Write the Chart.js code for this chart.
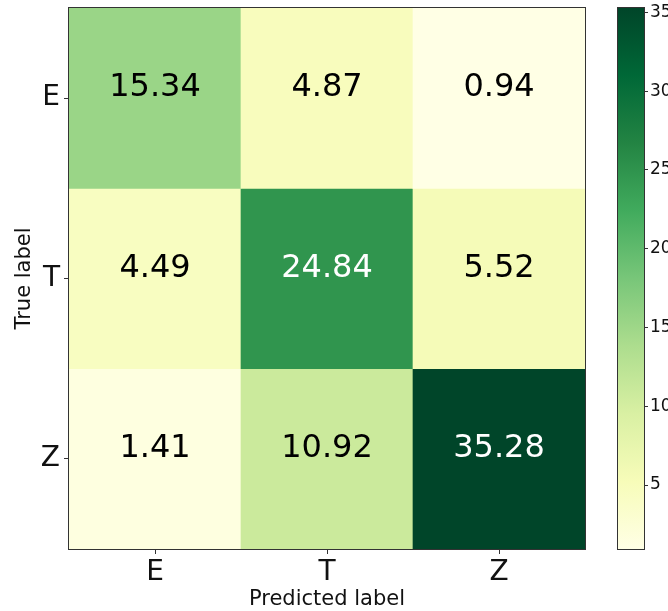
<!DOCTYPE html>
<html>
<head>
<meta charset="utf-8">
<script src="https://cdn.jsdelivr.net/npm/chart.js@4"></script>
<style>
    html, body { margin: 0; padding: 0; background: #fff; }
    #wrap { position: relative; width: 668px; height: 611px; overflow: hidden; }
    #matrix { position: absolute; left: 0; top: 0; }
    #cbar { position: absolute; left: 600px; top: 0; }
</style>
</head>
<body>
<div id="wrap">
    <canvas id="matrix" width="610" height="611"></canvas>
    <canvas id="cbar" width="68" height="611"></canvas>
</div>
<script>
// Confusion matrix data
const rowLabels = ['E', 'T', 'Z'];   // true label
const colLabels = ['E', 'T', 'Z'];   // predicted label
const rowE = [15.34, 4.87, 0.94];
const rowT = [4.49, 24.84, 5.52];
const rowZ = [1.41, 10.92, 35.28];
const cellValues = [rowE, rowT, rowZ];
const cbarTicks = [5, 10, 15, 20, 25, 30, 35];

const FONT = "'DejaVu Sans', sans-serif";
const allVals = cellValues.flat();
const vMin = Math.min(...allVals);
const vMax = Math.max(...allVals);

// YlGn colormap stops
const ylgn = ['#ffffe5', '#f7fcb9', '#d9f0a3', '#addd8e', '#78c679', '#41ab5d', '#238443', '#006837', '#004529'];

function hexToRgb(h) {
    return [parseInt(h.slice(1, 3), 16), parseInt(h.slice(3, 5), 16), parseInt(h.slice(5, 7), 16)];
}

function colormap(v) {
    let t = (v - vMin) / (vMax - vMin);
    t = Math.max(0, Math.min(1, t));
    const pos = t * (ylgn.length - 1);
    const i = Math.min(Math.floor(pos), ylgn.length - 2);
    const f = pos - i;
    const a = hexToRgb(ylgn[i]), b = hexToRgb(ylgn[i + 1]);
    const c = a.map((x, k) => Math.round(x + (b[k] - x) * f));
    return `rgb(${c[0]},${c[1]},${c[2]})`;
}

// Frame around chart area
const framePlugin = {
    id: 'frame',
    afterDraw(chart) {
        const { ctx, chartArea: a } = chart;
        ctx.save();
        ctx.strokeStyle = '#333';
        ctx.lineWidth = 1;
        ctx.strokeRect(Math.round(a.left) - 0.5, Math.round(a.top) - 0.5,
            Math.round(a.right - a.left) + 1, Math.round(a.bottom - a.top) + 1);
        ctx.restore();
    }
};

// Value labels in each cell (sit a bit above centre, like matplotlib va=center)
const cellTextPlugin = {
    id: 'cellText',
    afterDatasetsDraw(chart) {
        const { ctx } = chart;
        ctx.save();
        ctx.font = `32px ${FONT}`;
        ctx.textAlign = 'center';
        ctx.textBaseline = 'middle';
        chart.data.datasets.forEach((ds, r) => {
            const meta = chart.getDatasetMeta(r);
            meta.data.forEach((el, c) => {
                const v = cellValues[r][c];
                ctx.fillStyle = v > vMax / 2 ? '#ffffff' : '#000000';
                ctx.fillText(v.toFixed(2), el.x, (el.y + el.base) / 2 - 10);
            });
        });
        ctx.restore();
    }
};

// no extra label padding on vertical axes, so chart area hits the layout padding exactly
function fixVertical(width) {
    return (s) => {
        s.width = width;
        s.paddingTop = 0;
        s.paddingBottom = 0;
    };
}

const datasets = rowLabels.map((lbl, r) => ({
    label: lbl,
    data: colLabels.map(() => [r, r + 1]),
    backgroundColor: cellValues[r].map(v => colormap(v)),
    borderWidth: 0,
    borderSkipped: false,
    barPercentage: 1,
    categoryPercentage: 1,
    grouped: false
}));

new Chart(document.getElementById('matrix').getContext('2d'), {
    type: 'bar',
    data: { labels: colLabels, datasets: datasets },
    options: {
        responsive: false,
        animation: false,
        devicePixelRatio: 1,
        layout: { padding: { top: 8, right: 25, left: 0, bottom: 0 } },
        plugins: { legend: { display: false }, tooltip: { enabled: false } },
        scales: {
            x: {
                type: 'category',
                border: { display: false },
                grid: { offset: false, drawOnChartArea: false, drawTicks: true, tickLength: 5, color: '#333' },
                ticks: { color: '#111', padding: 2, font: { family: FONT, size: 28 } },
                title: {
                    display: true, text: 'Predicted label', color: '#111',
                    font: { family: FONT, size: 21, lineHeight: 1.1 }, padding: 0
                },
                afterFit: (s) => { s.height = 62; s.paddingLeft = 0; s.paddingRight = 0; }
            },
            y: {
                type: 'linear',
                min: 0, max: rowLabels.length,
                reverse: true,
                border: { display: false },
                grid: { drawOnChartArea: false, drawTicks: true, tickLength: 5, color: '#333' },
                afterBuildTicks: (s) => { s.ticks = rowLabels.map((_, i) => ({ value: i + 0.5 })); },
                ticks: {
                    color: '#111', padding: 4, font: { family: FONT, size: 28 },
                    callback: (v) => rowLabels[Math.floor(v)]
                },
                title: {
                    display: true, text: 'True label', color: '#111',
                    font: { family: FONT, size: 21 }, padding: { top: 12, bottom: 0 }
                },
                afterFit: fixVertical(69)
            }
        }
    },
    plugins: [cellTextPlugin, framePlugin]
});

// Colorbar
new Chart(document.getElementById('cbar').getContext('2d'), {
    type: 'bar',
    data: {
        labels: [''],
        datasets: [{
            data: [[vMin, vMax]],
            backgroundColor: (c) => {
                const area = c.chart.chartArea;
                if (!area) return ylgn[0];
                const g = c.chart.ctx.createLinearGradient(0, area.bottom, 0, area.top);
                ylgn.forEach((col, i) => g.addColorStop(i / (ylgn.length - 1), col));
                return g;
            },
            borderWidth: 0,
            borderSkipped: false,
            barPercentage: 1,
            categoryPercentage: 1
        }]
    },
    options: {
        responsive: false,
        animation: false,
        devicePixelRatio: 1,
        layout: { padding: { top: 8, right: 0, left: 18, bottom: 62 } },
        plugins: { legend: { display: false }, tooltip: { enabled: false } },
        scales: {
            x: { display: false },
            y: {
                position: 'right',
                min: vMin, max: vMax,
                border: { display: false },
                grid: { drawOnChartArea: false, drawTicks: true, tickLength: 4, color: '#333' },
                afterBuildTicks: (s) => { s.ticks = cbarTicks.map(v => ({ value: v })); },
                ticks: { color: '#111', padding: 2, font: { family: FONT, size: 17 } },
                afterFit: fixVertical(24)
            }
        }
    },
    plugins: [framePlugin]
});
</script>
</body>
</html>
